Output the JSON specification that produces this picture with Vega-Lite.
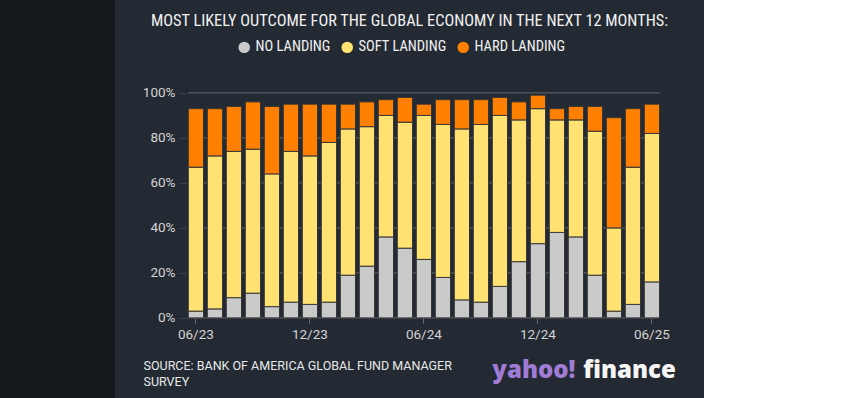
{
  "$schema": "https://vega.github.io/schema/vega-lite/v6.json",
  "width": 589,
  "height": 398,
  "autosize": {"type": "none"},
  "padding": {"left": 115, "top": 0, "right": 0, "bottom": 0},
  "background": "#15181c",
  "config": {"view": {"fill": "#242a33", "stroke": null}, "font": "Roboto"},
  "title": {
    "text": "MOST LIKELY OUTCOME FOR THE GLOBAL ECONOMY IN THE NEXT 12 MONTHS:",
    "font": "Roboto Condensed, DejaVu Sans Condensed, Roboto",
    "fontSize": 16.3,
    "fontWeight": "normal",
    "color": "#f2f2f2",
    "anchor": "middle",
    "frame": "group",
    "offset": -25,
    "dy": 17,
    "baseline": "alphabetic"
  },
  "datasets": {
    "survey": [
      {"month": "2023-06", "outcome": "NO LANDING", "pct": 3}, {"month": "2023-06", "outcome": "SOFT LANDING", "pct": 64}, {"month": "2023-06", "outcome": "HARD LANDING", "pct": 26},
      {"month": "2023-07", "outcome": "NO LANDING", "pct": 4}, {"month": "2023-07", "outcome": "SOFT LANDING", "pct": 68}, {"month": "2023-07", "outcome": "HARD LANDING", "pct": 21},
      {"month": "2023-08", "outcome": "NO LANDING", "pct": 9}, {"month": "2023-08", "outcome": "SOFT LANDING", "pct": 65}, {"month": "2023-08", "outcome": "HARD LANDING", "pct": 20},
      {"month": "2023-09", "outcome": "NO LANDING", "pct": 11}, {"month": "2023-09", "outcome": "SOFT LANDING", "pct": 64}, {"month": "2023-09", "outcome": "HARD LANDING", "pct": 21},
      {"month": "2023-10", "outcome": "NO LANDING", "pct": 5}, {"month": "2023-10", "outcome": "SOFT LANDING", "pct": 59}, {"month": "2023-10", "outcome": "HARD LANDING", "pct": 30},
      {"month": "2023-11", "outcome": "NO LANDING", "pct": 7}, {"month": "2023-11", "outcome": "SOFT LANDING", "pct": 67}, {"month": "2023-11", "outcome": "HARD LANDING", "pct": 21},
      {"month": "2023-12", "outcome": "NO LANDING", "pct": 6}, {"month": "2023-12", "outcome": "SOFT LANDING", "pct": 66}, {"month": "2023-12", "outcome": "HARD LANDING", "pct": 23},
      {"month": "2024-01", "outcome": "NO LANDING", "pct": 7}, {"month": "2024-01", "outcome": "SOFT LANDING", "pct": 71}, {"month": "2024-01", "outcome": "HARD LANDING", "pct": 17},
      {"month": "2024-02", "outcome": "NO LANDING", "pct": 19}, {"month": "2024-02", "outcome": "SOFT LANDING", "pct": 65}, {"month": "2024-02", "outcome": "HARD LANDING", "pct": 11},
      {"month": "2024-03", "outcome": "NO LANDING", "pct": 23}, {"month": "2024-03", "outcome": "SOFT LANDING", "pct": 62}, {"month": "2024-03", "outcome": "HARD LANDING", "pct": 11},
      {"month": "2024-04", "outcome": "NO LANDING", "pct": 36}, {"month": "2024-04", "outcome": "SOFT LANDING", "pct": 54}, {"month": "2024-04", "outcome": "HARD LANDING", "pct": 7},
      {"month": "2024-05", "outcome": "NO LANDING", "pct": 31}, {"month": "2024-05", "outcome": "SOFT LANDING", "pct": 56}, {"month": "2024-05", "outcome": "HARD LANDING", "pct": 11},
      {"month": "2024-06", "outcome": "NO LANDING", "pct": 26}, {"month": "2024-06", "outcome": "SOFT LANDING", "pct": 64}, {"month": "2024-06", "outcome": "HARD LANDING", "pct": 5},
      {"month": "2024-07", "outcome": "NO LANDING", "pct": 18}, {"month": "2024-07", "outcome": "SOFT LANDING", "pct": 68}, {"month": "2024-07", "outcome": "HARD LANDING", "pct": 11},
      {"month": "2024-08", "outcome": "NO LANDING", "pct": 8}, {"month": "2024-08", "outcome": "SOFT LANDING", "pct": 76}, {"month": "2024-08", "outcome": "HARD LANDING", "pct": 13},
      {"month": "2024-09", "outcome": "NO LANDING", "pct": 7}, {"month": "2024-09", "outcome": "SOFT LANDING", "pct": 79}, {"month": "2024-09", "outcome": "HARD LANDING", "pct": 11},
      {"month": "2024-10", "outcome": "NO LANDING", "pct": 14}, {"month": "2024-10", "outcome": "SOFT LANDING", "pct": 76}, {"month": "2024-10", "outcome": "HARD LANDING", "pct": 8},
      {"month": "2024-11", "outcome": "NO LANDING", "pct": 25}, {"month": "2024-11", "outcome": "SOFT LANDING", "pct": 63}, {"month": "2024-11", "outcome": "HARD LANDING", "pct": 8},
      {"month": "2024-12", "outcome": "NO LANDING", "pct": 33}, {"month": "2024-12", "outcome": "SOFT LANDING", "pct": 60}, {"month": "2024-12", "outcome": "HARD LANDING", "pct": 6},
      {"month": "2025-01", "outcome": "NO LANDING", "pct": 38}, {"month": "2025-01", "outcome": "SOFT LANDING", "pct": 50}, {"month": "2025-01", "outcome": "HARD LANDING", "pct": 5},
      {"month": "2025-02", "outcome": "NO LANDING", "pct": 36}, {"month": "2025-02", "outcome": "SOFT LANDING", "pct": 52}, {"month": "2025-02", "outcome": "HARD LANDING", "pct": 6},
      {"month": "2025-03", "outcome": "NO LANDING", "pct": 19}, {"month": "2025-03", "outcome": "SOFT LANDING", "pct": 64}, {"month": "2025-03", "outcome": "HARD LANDING", "pct": 11},
      {"month": "2025-04", "outcome": "NO LANDING", "pct": 3}, {"month": "2025-04", "outcome": "SOFT LANDING", "pct": 37}, {"month": "2025-04", "outcome": "HARD LANDING", "pct": 49},
      {"month": "2025-05", "outcome": "NO LANDING", "pct": 6}, {"month": "2025-05", "outcome": "SOFT LANDING", "pct": 61}, {"month": "2025-05", "outcome": "HARD LANDING", "pct": 26},
      {"month": "2025-06", "outcome": "NO LANDING", "pct": 16}, {"month": "2025-06", "outcome": "SOFT LANDING", "pct": 66}, {"month": "2025-06", "outcome": "HARD LANDING", "pct": 13}
    ],
    "grid": [{"g": 0}, {"g": 20}, {"g": 40}, {"g": 60}, {"g": 80}, {"g": 100}]
  },
  "layer": [
    {
      "data": {"name": "grid"},
      "mark": {"type": "rule", "color": "#66696e", "strokeWidth": 1},
      "encoding": {
        "y": {"field": "g", "type": "quantitative", "title": null},
        "x": {
          "datum": "2023-06",
          "type": "ordinal",
          "bandPosition": 0,
          "axis": {
            "values": ["2023-06", "2023-12", "2024-06", "2024-12", "2025-06"],
            "labelExpr": "substring(datum.value, 5, 7) + '/' + substring(datum.value, 2, 4)",
            "bandPosition": 0.5,
            "offset": -80,
            "domain": false,
            "grid": false,
            "tickSize": 5,
            "tickColor": "#6a6d72",
            "labelColor": "#d4d4d4",
            "labelFont": "Roboto",
            "labelFontSize": 13.5,
            "labelPadding": 4,
            "labelAngle": 0,
            "title": ["SOURCE: BANK OF AMERICA GLOBAL FUND MANAGER", "SURVEY"],
            "titleAnchor": "start",
            "titleAlign": "left",
            "titleBaseline": "top",
            "titleX": 28,
            "titleY": 41,
            "titleFont": "Roboto",
            "titleFontSize": 12.5,
            "titleFontWeight": "normal",
            "titleColor": "#e8e8e8",
            "titleLineHeight": 16
          }
        },
        "x2": {"datum": "2025-06", "bandPosition": 1}
      }
    },
    {
      "data": {"name": "survey"},
      "transform": [{"calculate": "indexof(['NO LANDING', 'SOFT LANDING', 'HARD LANDING'], datum.outcome)", "as": "rank"}],
      "mark": {"type": "bar", "stroke": "#363636", "strokeWidth": 1},
      "encoding": {
        "x": {
          "field": "month",
          "type": "ordinal",
          "scale": {"range": [73.3, 544.5], "paddingInner": 0.2, "paddingOuter": 0}
        },
        "y": {
          "field": "pct",
          "type": "quantitative",
          "stack": "zero",
          "scale": {"domain": [-35.6, 141.3], "nice": false, "zero": false},
          "axis": {
            "values": [0, 20, 40, 60, 80, 100],
            "labelExpr": "datum.value + '%'",
            "offset": -71,
            "domain": false,
            "grid": false,
            "tickSize": 7,
            "tickColor": "#3e434b",
            "labelPadding": 4,
            "labelColor": "#d4d4d4",
            "labelFont": "Roboto",
            "labelFontSize": 13.5,
            "title": null
          }
        },
        "order": {"field": "rank", "type": "quantitative", "sort": "ascending"},
        "color": {
          "field": "outcome",
          "type": "nominal",
          "scale": {"domain": ["NO LANDING", "SOFT LANDING", "HARD LANDING"], "range": ["#cacaca", "#ffe271", "#ff8000"]},
          "legend": {
            "orient": "none",
            "legendX": 122,
            "legendY": 40,
            "direction": "horizontal",
            "title": null,
            "symbolType": "circle",
            "symbolSize": 132,
            "symbolStrokeWidth": 0,
            "symbolOpacity": 1,
            "labelFont": "Roboto Condensed, DejaVu Sans Condensed, Roboto",
            "labelFontSize": 14.5,
            "labelColor": "#f2f2f2",
            "labelOffset": 4,
            "columnPadding": 9
          }
        }
      }
    },
    {
      "data": {"values": [{"t": "yahoo!"}]},
      "mark": {"type": "text", "align": "left", "baseline": "alphabetic", "font": "Open Sans", "fontWeight": 800, "fontSize": 24, "color": "#a07cd6"},
      "encoding": {
        "text": {"field": "t"},
        "x": {"datum": "2024-10", "type": "ordinal", "bandPosition": 0},
        "y": {"datum": -26.7, "type": "quantitative"}
      }
    },
    {
      "data": {"values": [{"t": "finance"}]},
      "mark": {"type": "text", "align": "left", "baseline": "alphabetic", "dx": -4, "font": "Open Sans", "fontWeight": 800, "fontSize": 24, "color": "#f5f5f5"},
      "encoding": {
        "text": {"field": "t"},
        "x": {"datum": "2025-03", "type": "ordinal", "bandPosition": 0},
        "y": {"datum": -26.7, "type": "quantitative"}
      }
    }
  ]
}
